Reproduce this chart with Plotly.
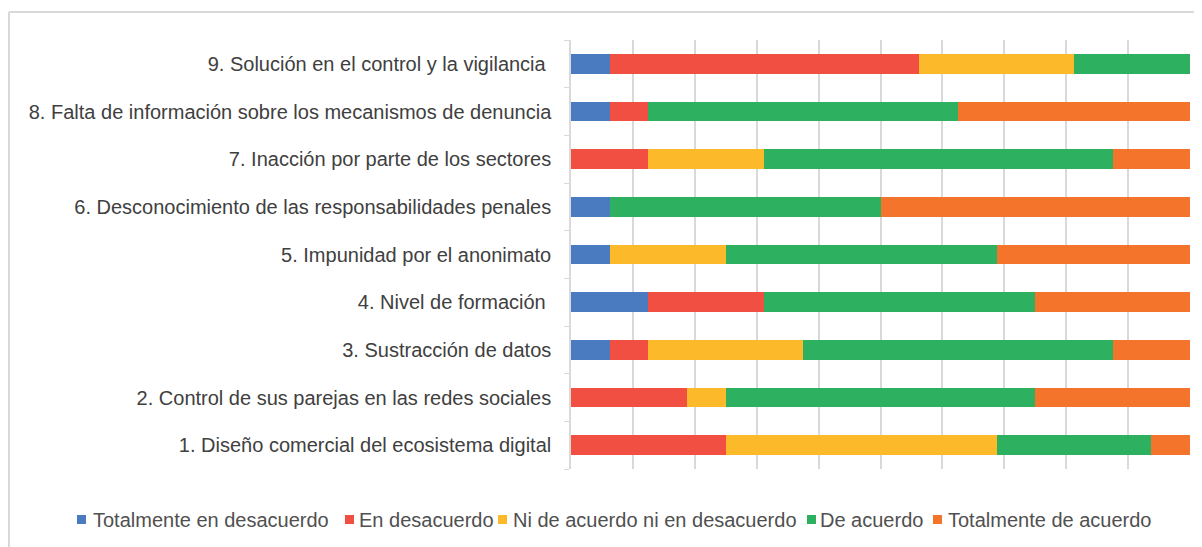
import plotly.graph_objects as go

categories = [
    "1. Diseño comercial del ecosistema digital",
    "2. Control de sus parejas en las redes sociales",
    "3. Sustracción de datos",
    "4. Nivel de formación ",
    "5. Impunidad por el anonimato",
    "6. Desconocimiento de las responsabilidades penales",
    "7. Inacción por parte de los sectores",
    "8. Falta de información sobre los mecanismos de denuncia",
    "9. Solución en el control y la vigilancia ",
]

series_names = [
    "Totalmente en desacuerdo",
    "En desacuerdo",
    "Ni de acuerdo ni en desacuerdo",
    "De acuerdo",
    "Totalmente de acuerdo",
]

totalmente_desacuerdo = [0, 0, 1, 2, 1, 1, 0, 1, 1]
en_desacuerdo = [4, 3, 1, 3, 0, 0, 2, 1, 8]
ni_ni = [7, 1, 4, 0, 3, 0, 3, 0, 4]
de_acuerdo = [4, 8, 8, 7, 7, 7, 9, 8, 3]
totalmente_acuerdo = [1, 4, 2, 4, 5, 8, 2, 6, 0]

series_values = [totalmente_desacuerdo, en_desacuerdo, ni_ni, de_acuerdo, totalmente_acuerdo]
colors = ["#4A7AC0", "#F04F41", "#FCB929", "#2EB061", "#F4742B"]

fig = go.Figure()
for name, vals, col in zip(series_names, series_values, colors):
    fig.add_trace(go.Bar(
        y=categories, x=vals, name=name, orientation="h",
        marker=dict(color=col, line=dict(width=0)),
        showlegend=False,
    ))

# page body has an 8px margin; work in figure pixels
OFF = 8
W, H = 1202 - OFF, 547 - OFF
L, R, T, B = 571 - OFF, 1202 - 1190, 40 - OFF, 547 - 469
pw = W - L - R
ph = H - T - B

def fx(px):
    return (px - OFF - L) / pw

def fy(py):
    return (H - B - (py - OFF)) / ph

shapes = [
    dict(type="line", xref="paper", yref="paper",
         x0=fx(9), x1=fx(1220), y0=fy(12), y1=fy(12),
         line=dict(color="#D9D9D9", width=2)),
    dict(type="line", xref="paper", yref="paper",
         x0=fx(9), x1=fx(9), y0=fy(12), y1=fy(560),
         line=dict(color="#D9D9D9", width=2)),
]
annotations = []

# custom legend (single row, as in the reference)
marker_x = [77, 345, 498, 807, 933]
text_x = [92, 358, 512, 819, 947]
leg_y = 519.5
for name, col, mx, tx in zip(series_names, colors, marker_x, text_x):
    shapes.append(dict(type="rect", xref="paper", yref="paper",
                       x0=fx(mx), x1=fx(mx + 9), y0=fy(leg_y - 4.5), y1=fy(leg_y + 4.5),
                       fillcolor=col, line=dict(width=0)))
    annotations.append(dict(text=name, xref="paper", yref="paper",
                            x=fx(tx - 1), y=fy(leg_y), xanchor="left", yanchor="middle",
                            showarrow=False,
                            font=dict(size=20, color="#505050")))

fig.update_layout(
    width=W, height=H,
    barmode="stack", barnorm="percent",
    bargap=0.59,
    margin=dict(l=L, r=R, t=T, b=B),
    paper_bgcolor="white", plot_bgcolor="white",
    font=dict(family="Liberation Sans, Arial, sans-serif", size=20, color="#404040"),
    showlegend=False,
    xaxis=dict(
        range=[0, 100], dtick=10, showticklabels=False,
        showgrid=True, gridcolor="#D9D9D9", gridwidth=2,
        zeroline=False, showline=False, fixedrange=True,
    ),
    yaxis=dict(
        showline=True, linecolor="#D9D9D9", linewidth=1.5,
        ticks="outside", ticklen=5, tickcolor="#D9D9D9",
        tickson="boundaries",
        ticklabelstandoff=14,
        showgrid=False, zeroline=False,
    ),
    shapes=shapes,
    annotations=annotations,
)

fig.write_html("out.html")
